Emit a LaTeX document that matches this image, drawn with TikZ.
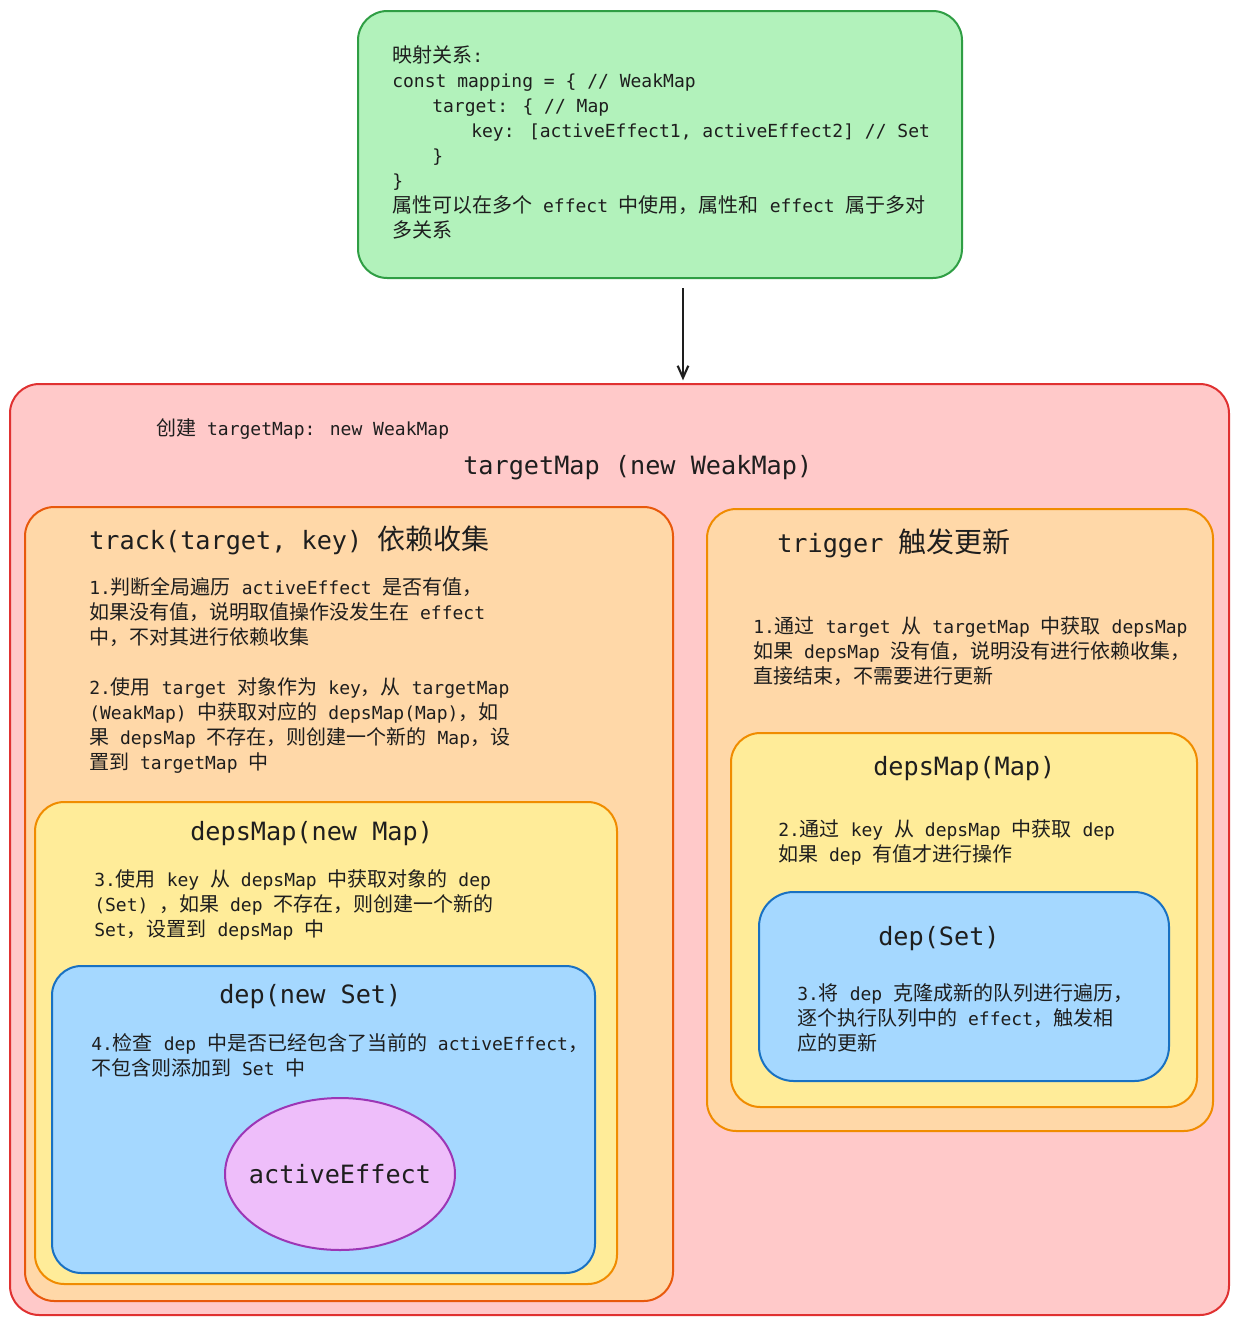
\documentclass[tikz,border=0pt]{standalone}
\usepackage{fontspec}
\setmainfont{DejaVu Sans Mono}[Scale=0.9]
\newfontfamily\cjk{Noto Sans CJK SC}
\usetikzlibrary{arrows.meta,shapes.geometric}
% CJK characters switch to the CJK family automatically
\XeTeXinterchartokenstate=1
\newXeTeXintercharclass\cjkclass
\newcount\cjkc
\cjkc="4E00
\loop \XeTeXcharclass\cjkc=\cjkclass \advance\cjkc by 1 \ifnum\cjkc<"A000 \repeat
\cjkc="3000
\loop \XeTeXcharclass\cjkc=\cjkclass \advance\cjkc by 1 \ifnum\cjkc<"3040 \repeat
\cjkc="FF00
\loop \XeTeXcharclass\cjkc=\cjkclass \advance\cjkc by 1 \ifnum\cjkc<"FFF0 \repeat
\XeTeXinterchartoks 0 \cjkclass = {\cjk}
\XeTeXinterchartoks 4095 \cjkclass = {\cjk}
\XeTeXinterchartoks \cjkclass 0 = {\rmfamily}
\XeTeXinterchartoks \cjkclass 4095 = {\rmfamily}
\definecolor{ink}{HTML}{1E1E1E}
\definecolor{greenfill}{HTML}{B2F2BB}
\definecolor{greenline}{HTML}{2F9E44}
\definecolor{redfill}{HTML}{FFC9C9}
\definecolor{redline}{HTML}{E03131}
\definecolor{orangefill}{HTML}{FFD8A8}
\definecolor{orangeline}{HTML}{E8590C}
\definecolor{yellowfill}{HTML}{FFEC99}
\definecolor{yellowline}{HTML}{F08C00}
\definecolor{bluefill}{HTML}{A5D8FF}
\definecolor{blueline}{HTML}{1971C2}
\definecolor{violetfill}{HTML}{EEBEFA}
\definecolor{violetline}{HTML}{9C36B5}
\tikzset{
  box/.style={draw, line width=1.5pt, rounded corners=22pt, inner sep=0pt},
  body/.style={anchor=north west, inner sep=0pt, align=left, text=ink,
    font=\fontsize{15}{18.75}\selectfont, execute at begin node={\rule{0pt}{14pt}}},
  title/.style={anchor=base west, inner sep=0pt, text=ink, font=\fontsize{21}{26}\selectfont},
  arr/.style={-{Straight Barb[length=9pt,width=8pt]}, line width=1.6pt, ink},
}
\begin{document}
\begin{tikzpicture}[x=0.75pt,y=-0.75pt]
	\useasboundingbox[fill=white] (0,0) rectangle (1239,1325);
	% boxes
	\node[box, fill=greenfill, draw=greenline, minimum width=453pt, minimum height=200.25pt] (mapping) at (660,144.5) {};
	\node[box, fill=redfill, draw=redline, minimum width=914.25pt, minimum height=698.25pt] (targetmap) at (619.5,849.5) {};
	\node[box, fill=orangefill, draw=orangeline, minimum width=486pt, minimum height=595.5pt] (track) at (349,904) {};
	\node[box, fill=orangefill, draw=yellowline, minimum width=379.5pt, minimum height=466.5pt] (trigger) at (960,820) {};
	\node[box, fill=yellowfill, draw=yellowline, minimum width=436.5pt, minimum height=361.5pt] (depsnew) at (326,1043) {};
	\node[box, fill=bluefill, draw=blueline, minimum width=407.25pt, minimum height=230.25pt] (depnew) at (323.5,1119.5) {};
	\node[ellipse, draw=violetline, fill=violetfill, line width=1.5pt, inner sep=0pt, minimum width=172.5pt, minimum height=114pt, text=ink, font=\fontsize{21}{26}\selectfont] (effect) at (340,1174) {\makebox[0pt]{activeEffect}};
	\node[box, fill=yellowfill, draw=yellowline, minimum width=349.5pt, minimum height=280.5pt] (depsmap) at (964,920) {};
	\node[box, fill=bluefill, draw=blueline, minimum width=307.5pt, minimum height=141.75pt, rounded corners=26pt] (dep) at (964,986.5) {};
	% arrow
	\coordinate (arrx) at (683,0);
	\draw[arr, shorten >=2pt] (mapping.south -| arrx) ++(0,9) -- (targetmap.north -| arrx);
	% texts
	\node[body] (mappingtext) at (392,45.5) {映射关系:\\
const mapping = \{ // WeakMap\\
\hspace*{30pt}target: \{ // Map\\
\hspace*{59.25pt}key: [activeEffect1, activeEffect2] // Set\\
\hspace*{30pt}\}\\
\}\\
属性可以在多个 effect 中使用，属性和 effect 属于多对\\
多关系};
	\node[anchor=base west, inner sep=0pt, text=ink, font=\fontsize{15}{18.75}\selectfont] (createtext) at (156,435) {创建 targetMap: new WeakMap};
	\node[title] (targetmaptitle) at (463,474) {targetMap (new WeakMap)};
	\node[title] (tracktitle) at (89,549) {track(target, key) 依赖收集};
	\node[body] (tracktext) at (89,577.3) {1.判断全局遍历 activeEffect 是否有值，\\
如果没有值，说明取值操作没发生在 effect\\
中，不对其进行依赖收集\\[18.75pt]
2.使用 target 对象作为 key，从 targetMap\\
(WeakMap) 中获取对应的 depsMap(Map)，如\\
果 depsMap 不存在，则创建一个新的 Map，设\\
置到 targetMap 中};
	\node[title] (triggertitle) at (777,552) {trigger 触发更新};
	\node[body] (triggertext) at (753,616.3) {1.通过 target 从 targetMap 中获取 depsMap\\
如果 depsMap 没有值，说明没有进行依赖收集，\\
直接结束，不需要进行更新};
	\node[title] (depsnewtitle) at (190,840) {depsMap(new Map)};
	\node[body] (depsnewtext) at (94,869.3) {3.使用 key 从 depsMap 中获取对象的 dep\\
(Set) ，如果 dep 不存在，则创建一个新的\\
Set，设置到 depsMap 中};
	\node[title] (depnewtitle) at (219,1003) {dep(new Set)};
	\node[body] (depnewtext) at (91,1033.3) {4.检查 dep 中是否已经包含了当前的 activeEffect，\\
不包含则添加到 Set 中};
	\node[title] (depsmaptitle) at (873,775) {depsMap(Map)};
	\node[body] (depsmaptext) at (778,819.3) {2.通过 key 从 depsMap 中获取 dep\\
如果 dep 有值才进行操作};
	\node[title] (deptitle) at (878,945) {dep(Set)};
	\node[body] (deptext) at (797,983.3) {3.将 dep 克隆成新的队列进行遍历，\\
逐个执行队列中的 effect，触发相\\
应的更新};
\end{tikzpicture}
\end{document}
